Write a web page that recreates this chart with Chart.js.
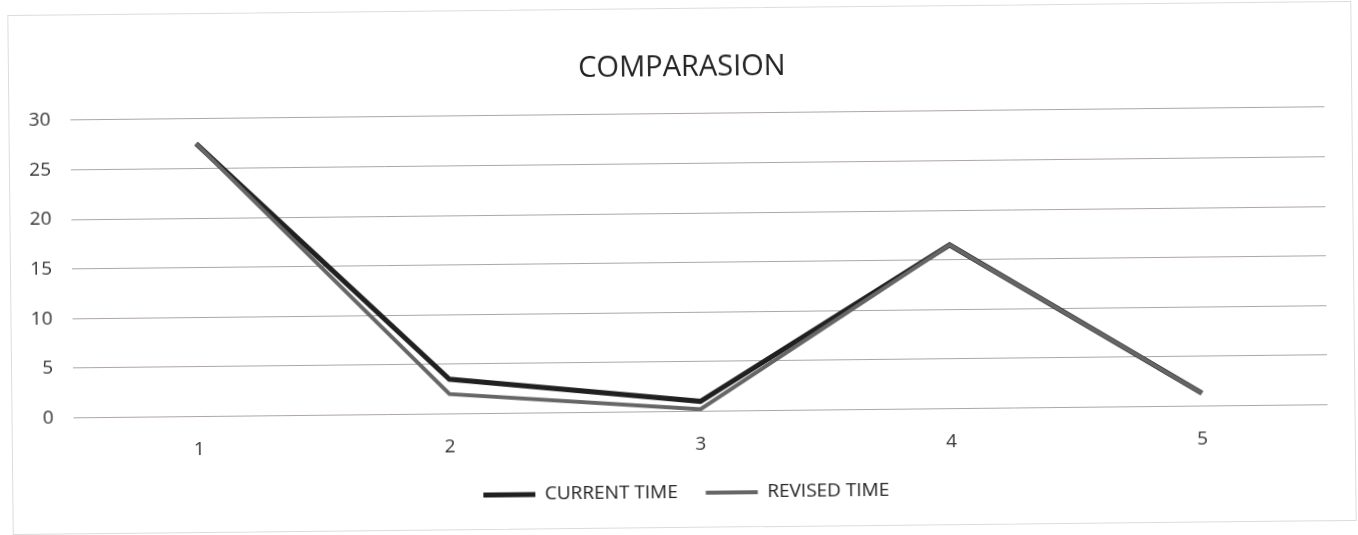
<!DOCTYPE html>
<html>
<head>
<meta charset="utf-8">
<title>Comparasion</title>
<script src="https://cdn.jsdelivr.net/npm/chart.js"></script>
<style>
  html, body { margin: 0; padding: 0; background: #fff; overflow: hidden; }
  #wrap {
    position: relative;
    width: 1358px;
    height: 535px;
    transform: rotate(-0.6deg);
  }
  #frame {
    position: absolute;
    left: 10px; top: 8px;
    width: 1342px; height: 518px;
    border: 1px solid #dcdcdc;
    pointer-events: none;
  }
  canvas { position: absolute; left: 0; top: 0; }
</style>
</head>
<body>
<div id="wrap">
  <div id="frame"></div>
  <canvas id="comparasionChart" width="1358" height="535"></canvas>
</div>
<script>
// categories and series
const categories = ['1', '2', '3', '4', '5'];
const currentTime = [27.5, 3.5, 1, 16.5, 1.3];
const revisedTime = [27.5, 2, 0.2, 16.5, 1.3];
const yTickValues = [0, 5, 10, 15, 20, 25, 30];

const labelFont = "'Open Sans', 'DejaVu Sans', sans-serif";

// title and legend are centred over the whole frame, not just the part right of the y axis
const centreOverFrame = {
    id: 'centreOverFrame',
    afterLayout(chart) {
        chart.titleBlock.left += 42;
        chart.legend.left += 42;
    }
};

const ctx = document.getElementById('comparasionChart').getContext('2d');

new Chart(ctx, {
    type: 'line',
    data: {
        labels: categories,
        datasets: [
            {
                label: 'CURRENT TIME',
                data: currentTime,
                borderColor: '#202020',
                backgroundColor: '#202020',
                borderWidth: 5,
                pointRadius: 0,
                tension: 0,
                order: 1
            },
            {
                label: 'REVISED TIME',
                data: revisedTime,
                borderColor: '#666666',
                backgroundColor: '#666666',
                borderWidth: 4,
                pointRadius: 0,
                tension: 0,
                order: 0 // drawn on top of current time
            }
        ]
    },
    options: {
        responsive: false,
        animation: false,
        layout: {
            padding: { left: 0, right: 32, top: 0, bottom: 22.5 }
        },
        plugins: {
            title: {
                display: true,
                text: 'COMPARASION',
                color: '#222',
                font: { family: labelFont, size: 29, weight: 'normal' },
                padding: { top: 50, bottom: 29 }
            },
            legend: {
                position: 'bottom',
                labels: {
                    usePointStyle: true,
                    pointStyle: 'line',
                    pointStyleWidth: 52,
                    padding: 28,
                    color: '#222',
                    font: { family: labelFont, size: 19 },
                    sort: (a, b) => a.datasetIndex - b.datasetIndex
                }
            },
            tooltip: { enabled: false }
        },
        scales: {
            x: {
                offset: true,
                grid: { display: false, drawTicks: false },
                border: { display: false },
                afterFit: scale => {
                    scale.height = 44;
                },
                ticks: {
                    color: '#333',
                    padding: 22,
                    font: { family: labelFont, size: 19 }
                }
            },
            y: {
                min: 0,
                max: 30,
                afterBuildTicks: scale => {
                    scale.ticks = yTickValues.map(v => ({ value: v }));
                },
                afterFit: scale => {
                    scale.width = 72;
                },
                grid: {
                    color: 'rgba(150, 135, 135, 0.75)',
                    lineWidth: 1,
                    drawTicks: false
                },
                border: { display: false },
                ticks: {
                    color: '#333',
                    padding: 20,
                    font: { family: labelFont, size: 19 }
                }
            }
        }
    },
    plugins: [centreOverFrame]
});
</script>
</body>
</html>
